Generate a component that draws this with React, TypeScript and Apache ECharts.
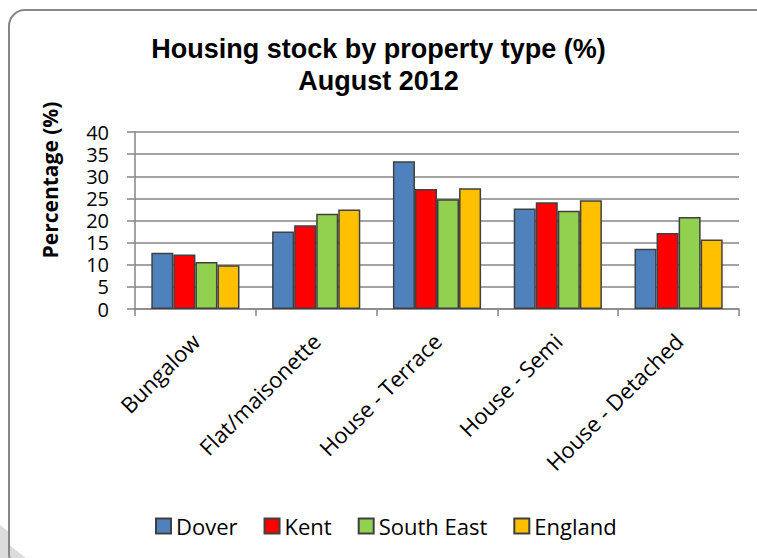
import React, { useEffect, useRef } from "react";
import * as echarts from "echarts";

const categories = ["Bungalow", "Flat/maisonette", "House - Terrace", "House - Semi", "House - Detached"];
const dover = [12.7, 17.5, 33.4, 22.7, 13.6];
const kent = [12.3, 18.9, 27.1, 24.1, 17.2];
const southEast = [10.6, 21.5, 24.8, 22.2, 20.8];
const england = [9.9, 22.5, 27.3, 24.6, 15.7];
const seriesNames = ["Dover", "Kent", "South East", "England"];
const seriesColors = ["#4F81BD", "#FF0000", "#92D050", "#FFC000"];

export default function App() {
  const ref = useRef<HTMLDivElement>(null);
  useEffect(() => {
    if (!ref.current) return;
    const chart = echarts.init(ref.current, undefined, { renderer: "svg" });
    const values = [dover, kent, southEast, england];
    const labelFont = "Open Sans";
    chart.setOption({
      animation: false,
      backgroundColor: "#ffffff",
      title: {
        text: "Housing stock by property type (%)\nAugust 2012",
        left: "center",
        top: 28,
        textStyle: {
          fontFamily: "Liberation Sans",
          fontWeight: "bold",
          fontSize: 27,
          lineHeight: 32,
          color: "#000",
        },
      },
      graphic: [
        {
          type: "polygon",
          shape: { points: [[0, 525], [9, 532], [9, 545], [26, 558], [0, 558]] },
          style: { fill: "#dcdcdc" },
          z: -1,
        },
        {
          type: "rect",
          shape: { x: 9, y: 10, width: 780, height: 560, r: 16 },
          style: { fill: "none", stroke: "#878787", lineWidth: 2 },
        },
        {
          type: "text",
          x: 50,
          y: 180,
          rotation: Math.PI / 2,
          style: {
            text: "Percentage (%)",
            fontFamily: labelFont,
            fontWeight: "bold",
            fontSize: 21,
            fill: "#000",
            textAlign: "center",
            textVerticalAlign: "middle",
          },
        },
      ],
      legend: {
        data: seriesNames,
        top: 515,
        left: 155,
        padding: 0,
        icon: "rect",
        itemWidth: 15,
        itemHeight: 15,
        itemGap: 26,
        textStyle: { fontFamily: labelFont, fontSize: 22, color: "#000" },
      },
      grid: { left: 135, right: 18, top: 132, bottom: 249, containLabel: false },
      xAxis: {
        type: "category",
        data: categories,
        axisLine: { show: true, lineStyle: { color: "#868686", width: 1.5 } },
        axisTick: { show: true, length: 7, lineStyle: { color: "#868686", width: 1.5 } },
        axisLabel: {
          rotate: 45,
          interval: 0,
          margin: 28,
          fontFamily: labelFont,
          fontSize: 22,
          color: "#000",
        },
      },
      yAxis: {
        type: "value",
        min: 0,
        max: 40,
        interval: 5,
        axisLine: { show: true, lineStyle: { color: "#868686", width: 1.5 } },
        axisTick: { show: true, length: 8, lineStyle: { color: "#868686", width: 1.5 } },
        splitLine: { show: true, lineStyle: { color: "#868686", width: 1.5 } },
        axisLabel: { margin: 26, fontFamily: labelFont, fontSize: 20, lineHeight: 20, color: "#000" },
      },
      series: seriesNames.map((name, i) => ({
        name,
        type: "bar",
        data: values[i],
        barGap: "0%",
        barCategoryGap: "27%",
        itemStyle: { color: seriesColors[i], borderColor: "#404040", borderWidth: 1.5 },
      })),
    });
    return () => chart.dispose();
  }, []);
  return <div ref={ref} style={{ position: "fixed", left: 0, top: 0, width: 757, height: 558 }} />;
}
